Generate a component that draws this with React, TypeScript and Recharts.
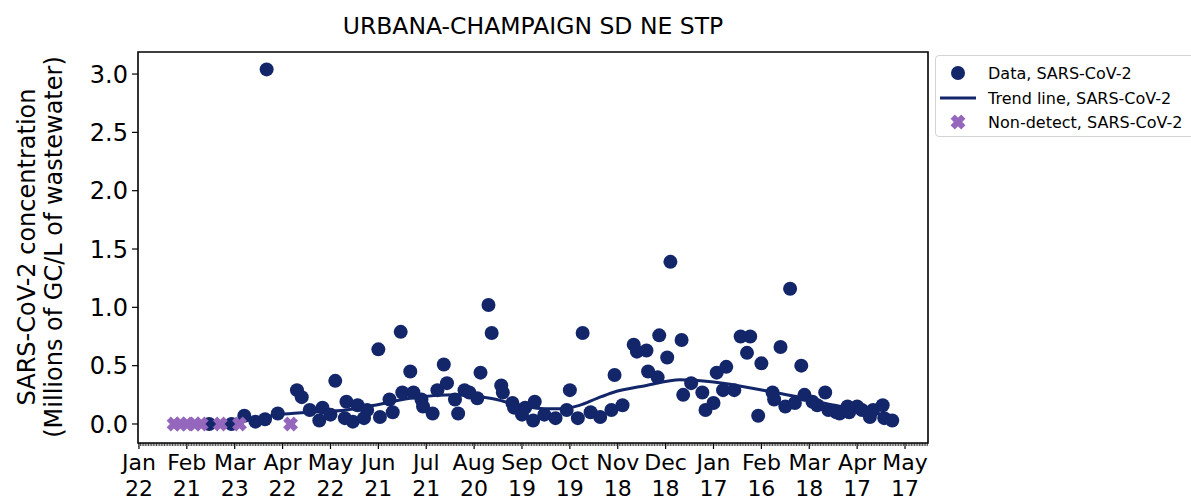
import React from "react";
import { ScatterChart, Scatter, XAxis, YAxis, ReferenceArea } from "recharts";

const NAVY = "#13266a";
const PURPLE = "#9467bd";
const FONT = "DejaVu Sans";

// x = days since Jan 22, y = millions of GC/L
const X_MIN = -0.6;
const X_MAX = 494.4;
const Y_MIN = -0.163;
const Y_MAX = 3.189;

const tickDays = [0, 30, 60, 90, 120, 150, 180, 210, 240, 270, 300, 330, 360, 390, 420, 450, 480];
const tickMonths = ["Jan", "Feb", "Mar", "Apr", "May", "Jun", "Jul", "Aug", "Sep", "Oct", "Nov", "Dec", "Jan", "Feb", "Mar", "Apr", "May"];
const tickDates = ["22", "21", "23", "22", "22", "21", "21", "20", "19", "19", "18", "18", "17", "16", "18", "17", "17"];
const yTicks = [0, 0.5, 1.0, 1.5, 2.0, 2.5, 3.0];
// one minor tick per day
const allDays = Array.from({ length: 495 }, (_, i) => i);

const samples = [
  [44, 0.0], [58, 0.0], [66, 0.07], [73, 0.02], [79, 0.04], [80, 3.04], [87, 0.09],
  [99, 0.29], [102, 0.23], [107, 0.12], [113, 0.03], [115, 0.14], [120, 0.08],
  [123, 0.37], [129, 0.05], [130, 0.19], [134, 0.02], [137, 0.16], [141, 0.05],
  [143, 0.12], [150, 0.64], [151, 0.06], [157, 0.21], [159, 0.1], [164, 0.79],
  [165, 0.27], [170, 0.45], [172, 0.27], [177, 0.21], [178, 0.15], [184, 0.09],
  [187, 0.29], [191, 0.51], [193, 0.35], [198, 0.21], [200, 0.09], [204, 0.29],
  [207, 0.27], [212, 0.22], [214, 0.44], [219, 1.02], [221, 0.78], [227, 0.33],
  [228, 0.27], [234, 0.18], [235, 0.14], [240, 0.08], [242, 0.14], [247, 0.03],
  [248, 0.19], [254, 0.08], [261, 0.05], [268, 0.12], [270, 0.29], [275, 0.05],
  [278, 0.78], [283, 0.1], [289, 0.06], [296, 0.12], [298, 0.42], [303, 0.16],
  [310, 0.68], [312, 0.62], [318, 0.63], [319, 0.45], [325, 0.4], [326, 0.76],
  [331, 0.57], [333, 1.39], [340, 0.72], [341, 0.25], [346, 0.35], [353, 0.27],
  [355, 0.12], [360, 0.18], [362, 0.44], [366, 0.29], [368, 0.49], [373, 0.29],
  [377, 0.75], [381, 0.61], [383, 0.75], [388, 0.07], [390, 0.52], [397, 0.27],
  [398, 0.21], [402, 0.66], [405, 0.15], [408, 1.16], [411, 0.18], [415, 0.5],
  [417, 0.25], [422, 0.19], [425, 0.16], [430, 0.27], [432, 0.12], [437, 0.1],
  [439, 0.09], [444, 0.15], [445, 0.1], [450, 0.15], [453, 0.12], [458, 0.06],
  [460, 0.12], [466, 0.16], [467, 0.05], [472, 0.03],
];

const nonDetects = [[22, 0], [26, 0], [30, 0], [35, 0], [39, 0], [51, 0], [63, 0], [95, 0]];

const trend = [
  [21, 0.0], [48, 0.0], [63, 0.02], [88, 0.08], [107, 0.1], [130, 0.12], [151, 0.17],
  [170, 0.22], [199, 0.25], [220, 0.22], [239, 0.16], [254, 0.13], [264, 0.13],
  [276, 0.16], [287, 0.22], [297, 0.27], [318, 0.33], [339, 0.38], [360, 0.36],
  [391, 0.29], [410, 0.24], [436, 0.16], [458, 0.1], [471, 0.07],
];

const toRows = (arr) => arr.map(([day, value]) => ({ day, value }));

const Dot = (p) => <circle cx={p.cx} cy={p.cy} r={7} fill={NAVY} />;

const Cross = (p) => (
  <g transform={`translate(${p.cx},${p.cy}) rotate(45)`} fill={PURPLE}>
    <rect x={-7.5} y={-3} width={15} height={6} />
    <rect x={-3} y={-7.5} width={6} height={15} />
  </g>
);

const NoShape = () => <g />;

// draws every daily minor tick, and the long tick plus two-line label at the major ones
function DayTick(props) {
  const { x, y, payload } = props;
  const i = tickDays.indexOf(payload.value);
  if (i < 0) {
    return <line x1={x} x2={x} y1={y} y2={y + 3} stroke="#000" strokeWidth={0.7} />;
  }
  return (
    <g>
      <line x1={x} x2={x} y1={y} y2={y + 6} stroke="#000" strokeWidth={1.2} />
      <g fontSize={22} fill="#000" fontFamily={FONT} textAnchor="middle">
        <text x={x} y={y + 27}>{tickMonths[i]}</text>
        <text x={x} y={y + 53}>{tickDates[i]}</text>
      </g>
    </g>
  );
}

function YLabel() {
  const cx = 46;
  const cy = 247;
  return (
    <text x={cx} y={cy} transform={`rotate(-90 ${cx} ${cy})`} textAnchor="middle" fontSize={24} fill="#000" fontFamily={FONT}>
      <tspan x={cx} dy={-11}>SARS-CoV-2 concentration</tspan>
      <tspan x={cx} dy={27}>(Millions of GC/L of wastewater)</tspan>
    </text>
  );
}

function Legend() {
  return (
    <div style={{ position: "absolute", left: 935, top: 55, width: 290, height: 82, border: "1px solid #d4d4d4", borderRadius: 4, background: "#fff", boxSizing: "border-box" }}>
      <svg width={290} height={82} style={{ position: "absolute", left: -1, top: -1 }}>
        <circle cx={23} cy={18} r={7} fill={NAVY} />
        <line x1={5} x2={41} y1={43} y2={43} stroke={NAVY} strokeWidth={3} />
        <Cross cx={23} cy={67} />
        <g fontFamily={FONT} fontSize={16} fill="#000">
          <text x={53} y={24}>Data, SARS-CoV-2</text>
          <text x={53} y={49}>Trend line, SARS-CoV-2</text>
          <text x={53} y={73}>Non-detect, SARS-CoV-2</text>
        </g>
      </svg>
    </div>
  );
}

export default function App() {
  return (
    <div style={{ position: "absolute", left: 0, top: 0, width: 1191, height: 500, overflow: "hidden", background: "#fff", fontFamily: FONT }}>
      <div style={{ position: "absolute", left: 138, width: 790, top: 12, textAlign: "center", fontSize: 23.5, color: "#000" }}>
        URBANA-CHAMPAIGN SD NE STP
      </div>
      <ScatterChart width={1191} height={500} margin={{ top: 52, right: 263, bottom: 0, left: 0 }}>
        <XAxis
          type="number"
          dataKey="day"
          domain={[X_MIN, X_MAX]}
          ticks={allDays}
          interval={0}
          allowDataOverflow
          height={57}
          axisLine={false}
          tickLine={false}
          tickSize={0}
          tickMargin={0}
          tick={DayTick}
        />
        <YAxis
          type="number"
          dataKey="value"
          domain={[Y_MIN, Y_MAX]}
          ticks={yTicks}
          interval={0}
          allowDataOverflow
          width={138}
          axisLine={false}
          tickSize={6}
          tickMargin={4}
          tickLine={{ stroke: "#000", strokeWidth: 1.2 }}
          tick={{ fontSize: 24, fill: "#000", fontFamily: FONT }}
          tickFormatter={(v) => v.toFixed(1)}
          label={{ content: YLabel }}
        />
        <Scatter
          data={toRows(trend)}
          line={{ stroke: NAVY, strokeWidth: 3 }}
          lineJointType="monotoneX"
          shape={NoShape}
          isAnimationActive={false}
        />
        <Scatter data={toRows(samples)} shape={Dot} isAnimationActive={false} />
        <Scatter data={toRows(nonDetects)} shape={Cross} isAnimationActive={false} />
        <ReferenceArea
          x1={X_MIN}
          x2={X_MAX}
          y1={Y_MIN}
          y2={Y_MAX}
          fill="none"
          stroke="#000"
          strokeWidth={1.6}
          ifOverflow="visible"
        />
      </ScatterChart>
      <Legend />
    </div>
  );
}
